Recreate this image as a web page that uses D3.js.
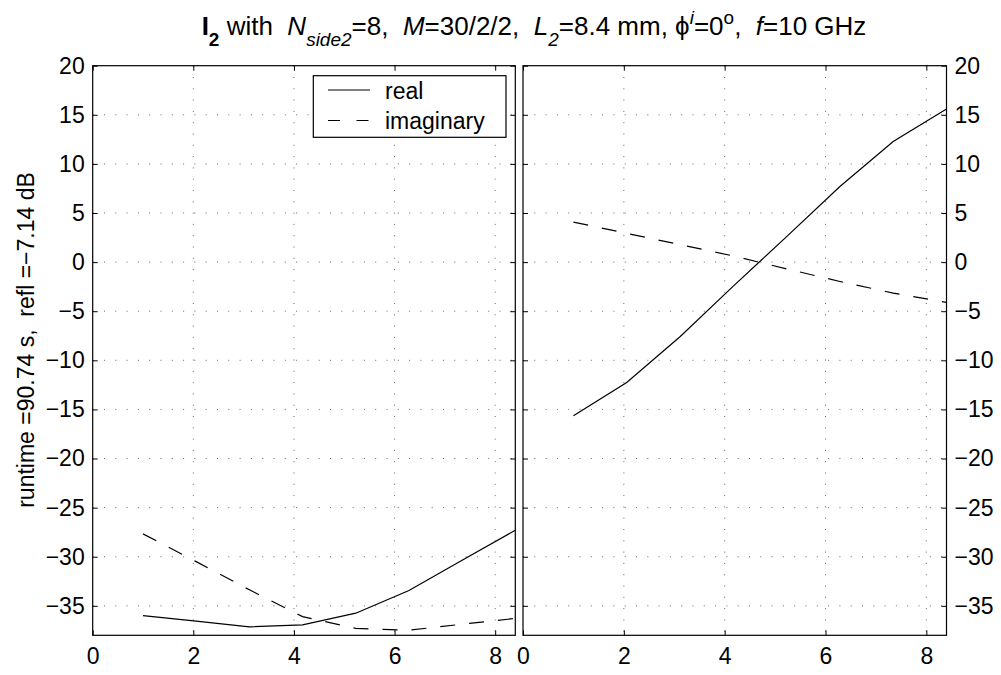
<!DOCTYPE html>
<html><head><meta charset="utf-8">
<script src="https://cdn.jsdelivr.net/npm/d3@7"></script>
<style>
body{margin:0;background:#fff;}
svg{font-family:"Liberation Sans",Arial,Helvetica,sans-serif;}
</style></head>
<body><svg id="c" width="1001" height="675"></svg>
<script>
// ---- data ----
const xValues = [1, 2.057, 3.114, 4.171, 5.229, 6.286, 7.343, 8.4];
const leftReal = [-36.0, -36.56, -37.14, -36.94, -35.75, -33.44, -30.35, -27.3];
const leftImag = [-27.67, -30.5, -33.37, -36.1, -37.3, -37.48, -36.87, -36.28];
const rightReal = [-15.65, -12.25, -7.6, -2.45, 2.6, 7.7, 12.29, 15.6];
const rightImag = [4.08, 2.93, 1.78, 0.63, -0.69, -1.97, -3.15, -4.1];
const xTicks = [0, 2, 4, 6, 8];
const yTicks = [-35, -30, -25, -20, -15, -10, -5, 0, 5, 10, 15, 20];
const xDomain = [0, 8.4];
const yDomain = [-38, 20];
const legendLabels = ["real", "imaginary"];

const svg = d3.select("#c");
const FS = 23;
const yTop = 65.7, yBottom = 635.3;
const y = d3.scaleLinear().domain(yDomain).range([yBottom, yTop]);
const fmt = d3.format("");
const DASH = "15,14";

const panels = [
  {x0: 92.7, x1: 515.3, real: leftReal, imag: leftImag, side: "left"},
  {x0: 523, x1: 946.5, real: rightReal, imag: rightImag, side: "right"}
];

panels.forEach(p => {
  const x = d3.scaleLinear().domain(xDomain).range([p.x0, p.x1]);
  const g = svg.append("g");
  const grid = g.append("g").attr("stroke", "#444").attr("stroke-width", 0.8)
    .attr("stroke-dasharray", "1,10.3").attr("fill", "none");
  xTicks.filter(t => t > xDomain[0] && t < xDomain[1]).forEach(t => {
    grid.append("line").attr("x1", x(t)).attr("x2", x(t)).attr("y1", yTop).attr("y2", yBottom);
  });
  yTicks.filter(t => t > yDomain[0] && t < yDomain[1]).forEach(t => {
    grid.append("line").attr("x1", p.x0).attr("x2", p.x1).attr("y1", y(t)).attr("y2", y(t));
  });
  const ab = g.append("g").attr("transform", `translate(0,${yBottom})`)
    .call(d3.axisBottom(x).tickValues(xTicks).tickSize(-5).tickPadding(12).tickFormat(fmt));
  const at = g.append("g").attr("transform", `translate(0,${yTop})`)
    .call(d3.axisTop(x).tickValues(xTicks).tickSize(-5).tickFormat(""));
  const al = g.append("g").attr("transform", `translate(${p.x0},0)`)
    .call(d3.axisLeft(y).tickValues(yTicks).tickSize(-5).tickPadding(8).tickFormat(p.side === "left" ? fmt : ""));
  const ar = g.append("g").attr("transform", `translate(${p.x1},0)`)
    .call(d3.axisRight(y).tickValues(yTicks).tickSize(-5).tickPadding(8).tickFormat(p.side === "right" ? fmt : ""));
  [ab, at, al, ar].forEach(a => {
    a.select(".domain").remove();
    a.selectAll("line").attr("stroke", "#000").attr("stroke-width", 1);
    a.selectAll("text").attr("font-size", FS).attr("fill", "#000")
      .attr("font-family", '"Liberation Sans",Arial,Helvetica,sans-serif');
  });
  g.append("rect").attr("x", p.x0).attr("y", yTop).attr("width", p.x1 - p.x0).attr("height", yBottom - yTop)
    .attr("fill", "none").attr("stroke", "#000").attr("stroke-width", 1.2);
  const line = d3.line().x((d, i) => x(xValues[i])).y(d => y(d));
  g.append("path").datum(p.real).attr("d", line).attr("fill", "none").attr("stroke", "#000").attr("stroke-width", 1.2);
  g.append("path").datum(p.imag).attr("d", line).attr("fill", "none").attr("stroke", "#000").attr("stroke-width", 1.2)
    .attr("stroke-dasharray", DASH);
});

// legend
const lg = svg.append("g");
lg.append("rect").attr("x", 313.3).attr("y", 75.7).attr("width", 192.7).attr("height", 61.6)
  .attr("fill", "#fff").attr("stroke", "#000").attr("stroke-width", 1.2);
[0, 1].forEach(i => {
  const yy = 90 + i * 30.5;
  lg.append("line").attr("x1", 328).attr("x2", 370).attr("y1", yy).attr("y2", yy)
    .attr("stroke", "#000").attr("stroke-width", 1.2).attr("stroke-dasharray", i ? "12,16.5" : null);
  lg.append("text").attr("x", 385).attr("y", yy + 8.5).attr("font-size", FS).text(legendLabels[i]);
});

// y label
svg.append("text").attr("transform", "translate(34,340) rotate(-90)").attr("text-anchor", "middle")
  .attr("font-size", FS).style("white-space", "pre").text("runtime =90.74 s,  refl =\u22127.14 dB");

// title
const t = svg.append("text").attr("x", 534).attr("y", 35).attr("text-anchor", "middle")
  .attr("font-size", 26).style("white-space", "pre");
const SUB = 19, D = 11;
t.append("tspan").attr("font-weight", "bold").text("I");
t.append("tspan").attr("font-weight", "bold").attr("font-size", SUB).attr("dy", D).text("2");
t.append("tspan").attr("dy", -D).text(" with  ");
t.append("tspan").attr("font-style", "italic").text("N");
t.append("tspan").attr("font-style", "italic").attr("font-size", SUB).attr("dy", D).text("side2");
t.append("tspan").attr("dy", -D).text("=8,  ");
t.append("tspan").attr("font-style", "italic").text("M");
t.append("tspan").text("=30/2/2,  ");
t.append("tspan").attr("font-style", "italic").text("L");
t.append("tspan").attr("font-style", "italic").attr("font-size", SUB).attr("dy", D).text("2");
t.append("tspan").attr("dy", -D).text("=8.4 mm, \u03D5");
t.append("tspan").attr("font-style", "italic").attr("font-size", SUB).attr("dy", -D).text("i");
t.append("tspan").attr("dy", D).text("=0");
t.append("tspan").attr("font-size", SUB).attr("dy", -D).text("o");
t.append("tspan").attr("dy", D).text(",  ");
t.append("tspan").attr("font-style", "italic").text("f");
t.append("tspan").text("=10 GHz");
</script></body></html>
